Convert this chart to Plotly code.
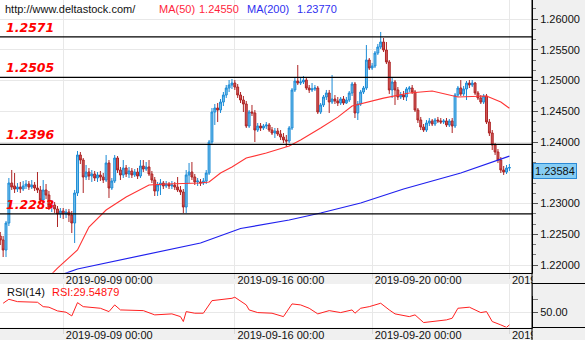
import plotly.graph_objects as go

# ---- EUR/USD 2-hour bars (bar index along the x axis) ----
bars = list(range(179))

open_ = [
    1.22472, 1.22407, 1.22244, 1.22683, 1.23333, 1.23285, 1.23236, 1.23268, 1.23236, 1.23285,
    1.23317, 1.23268, 1.23301, 1.23252, 1.23220, 1.23057, 1.23220, 1.23138, 1.22943, 1.22976,
    1.22911, 1.22829, 1.22878, 1.22829, 1.22862, 1.22813, 1.22683, 1.23171, 1.23789, 1.23707,
    1.23431, 1.23512, 1.23447, 1.23480, 1.23415, 1.23464, 1.23431, 1.23382, 1.23659, 1.23252,
    1.23366, 1.23740, 1.23545, 1.23464, 1.23577, 1.23480, 1.23529, 1.23464, 1.23512, 1.23447,
    1.23610, 1.23561, 1.23594, 1.23480, 1.23382, 1.23203, 1.23301, 1.23333, 1.23285, 1.23317,
    1.23285, 1.23301, 1.23268, 1.23220, 1.23187, 1.22943, 1.23464, 1.23512, 1.23431, 1.23350,
    1.23350, 1.23333, 1.23366, 1.23496, 1.24000, 1.24488, 1.24553, 1.24520, 1.24650, 1.24764,
    1.24878, 1.24927, 1.24959, 1.24894, 1.24764, 1.24683, 1.24618, 1.24260, 1.24488, 1.24472,
    1.24195, 1.24260, 1.24228, 1.24260, 1.24277, 1.24195, 1.24146, 1.24179, 1.24130, 1.24081,
    1.24033, 1.24016, 1.24228, 1.24846, 1.24992, 1.24959, 1.24976, 1.25008, 1.24878, 1.24846,
    1.24862, 1.24878, 1.24488, 1.24602, 1.24732, 1.24797, 1.24650, 1.24699, 1.24667, 1.24634,
    1.24699, 1.24634, 1.24683, 1.24797, 1.24943, 1.24472, 1.24618, 1.24813, 1.24878, 1.25333,
    1.25203, 1.25236, 1.25447, 1.25545, 1.25626, 1.25496, 1.25301, 1.24846, 1.24976, 1.24846,
    1.24732, 1.24764, 1.24732, 1.24862, 1.24878, 1.24813, 1.24520, 1.24358, 1.24244, 1.24195,
    1.24309, 1.24342, 1.24293, 1.24358, 1.24342, 1.24325, 1.24342, 1.24277, 1.24342, 1.24260,
    1.24764, 1.24878, 1.24781, 1.24862, 1.24959, 1.24927, 1.24959, 1.24797, 1.24716, 1.24650,
    1.24748, 1.24325, 1.24146, 1.23951, 1.23837, 1.23707, 1.23545, 1.23512, 1.23577,
]
high = [
    1.22537, 1.22472, 1.22716, 1.23415, 1.23545, 1.23496, 1.23333, 1.23350, 1.23366, 1.23382,
    1.23366, 1.23382, 1.23350, 1.23512, 1.23285, 1.23382, 1.23317, 1.23203, 1.23057, 1.23024,
    1.22959, 1.22927, 1.22927, 1.22911, 1.22911, 1.22878, 1.23220, 1.23854, 1.23837, 1.23740,
    1.23626, 1.23577, 1.23545, 1.23529, 1.23512, 1.23529, 1.23496, 1.23789, 1.23707, 1.23415,
    1.23789, 1.23772, 1.23594, 1.23707, 1.23626, 1.23594, 1.23577, 1.23561, 1.23577, 1.23707,
    1.23707, 1.23675, 1.23707, 1.23529, 1.23431, 1.23350, 1.23398, 1.23366, 1.23366, 1.23350,
    1.23366, 1.23350, 1.23431, 1.23285, 1.23236, 1.23545, 1.23659, 1.23675, 1.23480, 1.23415,
    1.23398, 1.23415, 1.23545, 1.24033, 1.24553, 1.24618, 1.24634, 1.24699, 1.24813, 1.24927,
    1.25008, 1.25024, 1.25008, 1.24943, 1.24813, 1.24748, 1.24667, 1.24520, 1.24602, 1.24520,
    1.24309, 1.24309, 1.24293, 1.24325, 1.24309, 1.24244, 1.24228, 1.24228, 1.24195, 1.24146,
    1.24114, 1.24260, 1.24878, 1.25041, 1.25252, 1.25041, 1.25073, 1.25041, 1.24927, 1.24959,
    1.24927, 1.24911, 1.24634, 1.24764, 1.24846, 1.24846, 1.25089, 1.24764, 1.24732, 1.24732,
    1.24748, 1.24732, 1.24829, 1.24976, 1.24976, 1.24667, 1.24846, 1.24911, 1.25577, 1.25366,
    1.25285, 1.25480, 1.25594, 1.25789, 1.25691, 1.25626, 1.25333, 1.25041, 1.25008, 1.24894,
    1.24813, 1.24829, 1.24894, 1.24911, 1.24927, 1.24846, 1.24553, 1.24407, 1.24293, 1.24358,
    1.24390, 1.24374, 1.24390, 1.24407, 1.24390, 1.24374, 1.24390, 1.24374, 1.24390, 1.24797,
    1.24911, 1.25008, 1.24911, 1.24992, 1.25008, 1.25008, 1.24976, 1.24829, 1.24764, 1.24781,
    1.24781, 1.24374, 1.24195, 1.23984, 1.23886, 1.23756, 1.23610, 1.23626, 1.23642,
]
low = [
    1.22325, 1.22130, 1.22130, 1.22634, 1.23220, 1.23171, 1.23187, 1.23171, 1.23203, 1.23236,
    1.23220, 1.23236, 1.23203, 1.23171, 1.23008, 1.22976, 1.23073, 1.22894, 1.22862, 1.22846,
    1.22618, 1.22764, 1.22748, 1.22764, 1.22699, 1.22520, 1.22358, 1.23122, 1.23642, 1.23171,
    1.23382, 1.23382, 1.23350, 1.23366, 1.23350, 1.23366, 1.23333, 1.23350, 1.23090, 1.23220,
    1.23333, 1.23496, 1.23382, 1.23415, 1.23431, 1.23415, 1.23415, 1.23431, 1.23398, 1.23415,
    1.23512, 1.23529, 1.23447, 1.23333, 1.23122, 1.23122, 1.23138, 1.23236, 1.23252, 1.23236,
    1.23236, 1.23220, 1.23187, 1.23138, 1.22846, 1.22846, 1.23333, 1.23382, 1.23301, 1.23285,
    1.23285, 1.23301, 1.23317, 1.23464, 1.23951, 1.24277, 1.24325, 1.24472, 1.24585, 1.24716,
    1.24813, 1.24862, 1.24846, 1.24716, 1.24634, 1.24488, 1.24228, 1.24228, 1.24423, 1.24000,
    1.24163, 1.24179, 1.24195, 1.24212, 1.24163, 1.24114, 1.24065, 1.24098, 1.24033, 1.23984,
    1.23919, 1.23984, 1.24195, 1.24813, 1.24927, 1.24927, 1.24943, 1.24846, 1.24797, 1.24813,
    1.24829, 1.24455, 1.24455, 1.24569, 1.24683, 1.24472, 1.24618, 1.24618, 1.24585, 1.24602,
    1.24602, 1.24618, 1.24650, 1.24748, 1.24390, 1.24358, 1.24585, 1.24781, 1.24846, 1.25171,
    1.25171, 1.25203, 1.25415, 1.25512, 1.25463, 1.25268, 1.24781, 1.24716, 1.24602, 1.24683,
    1.24699, 1.24683, 1.24667, 1.24813, 1.24781, 1.24488, 1.24309, 1.24195, 1.24163, 1.24163,
    1.24260, 1.24260, 1.24260, 1.24309, 1.24293, 1.24293, 1.24244, 1.24244, 1.24146, 1.24228,
    1.24732, 1.24748, 1.24748, 1.24683, 1.24878, 1.24894, 1.24764, 1.24683, 1.24618, 1.24618,
    1.24293, 1.24098, 1.23870, 1.23789, 1.23659, 1.23496, 1.23464, 1.23480, 1.23529,
]
close = [
    1.22407, 1.22244, 1.22683, 1.23333, 1.23268, 1.23236, 1.23268, 1.23236, 1.23285, 1.23317,
    1.23268, 1.23301, 1.23252, 1.23220, 1.23057, 1.23220, 1.23138, 1.22943, 1.22976, 1.22911,
    1.22829, 1.22878, 1.22829, 1.22862, 1.22813, 1.22683, 1.23171, 1.23789, 1.23707, 1.23431,
    1.23512, 1.23447, 1.23480, 1.23415, 1.23464, 1.23431, 1.23382, 1.23659, 1.23252, 1.23366,
    1.23740, 1.23545, 1.23464, 1.23577, 1.23480, 1.23529, 1.23464, 1.23512, 1.23447, 1.23610,
    1.23561, 1.23594, 1.23480, 1.23382, 1.23203, 1.23301, 1.23333, 1.23285, 1.23317, 1.23285,
    1.23301, 1.23268, 1.23220, 1.23187, 1.22943, 1.23464, 1.23512, 1.23431, 1.23350, 1.23366,
    1.23333, 1.23366, 1.23496, 1.24000, 1.24488, 1.24553, 1.24520, 1.24650, 1.24764, 1.24878,
    1.24927, 1.24959, 1.24894, 1.24764, 1.24683, 1.24618, 1.24260, 1.24488, 1.24472, 1.24195,
    1.24260, 1.24228, 1.24260, 1.24277, 1.24195, 1.24146, 1.24179, 1.24130, 1.24081, 1.24033,
    1.24016, 1.24228, 1.24846, 1.24992, 1.24959, 1.24976, 1.25008, 1.24878, 1.24846, 1.24862,
    1.24878, 1.24488, 1.24602, 1.24732, 1.24797, 1.24650, 1.24699, 1.24667, 1.24634, 1.24699,
    1.24634, 1.24683, 1.24797, 1.24943, 1.24472, 1.24618, 1.24813, 1.24878, 1.25333, 1.25203,
    1.25236, 1.25447, 1.25545, 1.25626, 1.25496, 1.25301, 1.24846, 1.24976, 1.24846, 1.24732,
    1.24764, 1.24732, 1.24862, 1.24878, 1.24813, 1.24520, 1.24358, 1.24244, 1.24195, 1.24309,
    1.24342, 1.24293, 1.24358, 1.24342, 1.24325, 1.24342, 1.24277, 1.24342, 1.24260, 1.24764,
    1.24878, 1.24781, 1.24862, 1.24959, 1.24927, 1.24959, 1.24797, 1.24716, 1.24650, 1.24748,
    1.24325, 1.24146, 1.23951, 1.23837, 1.23707, 1.23545, 1.23512, 1.23577, 1.23584,
]

# ---- moving averages ----
ma50_bar = [18, 20, 27, 31, 37, 44, 52, 58, 70, 73, 77, 81, 86, 93, 101, 105, 112, 118,
            123, 134, 143, 151, 160, 170, 175, 178]
ma50_val = [1.21854, 1.21951, 1.22244, 1.22618, 1.22894, 1.23106, 1.23301, 1.23317, 1.23333,
            1.23350, 1.23496, 1.23594, 1.23740, 1.23821, 1.23935, 1.24033, 1.24228, 1.24405,
            1.24585, 1.24714, 1.24797, 1.24829, 1.24732, 1.24748, 1.24650, 1.24550]
ma200_bar = [21, 27, 70, 84, 101, 112, 126, 141, 161, 171, 178]
ma200_val = [1.21837, 1.21935, 1.22358, 1.22594, 1.22732, 1.22846, 1.23008, 1.23236,
             1.23496, 1.23659, 1.23770]

# ---- RSI(14) ----
rsi_bar = [1, 3, 6, 13, 15, 17, 20, 23, 25, 27, 29, 35, 38, 40, 42, 46, 50, 54, 60, 63,
           64, 65, 68, 71, 74, 81, 82, 86, 87, 90, 95, 99, 102, 105, 108, 111, 115, 119, 123, 124,
           126, 129, 133, 136, 138, 143, 145, 148, 153, 156, 158, 160, 164, 168, 170, 172, 175, 177, 178]
rsi_val = [64.5, 70.9, 67.1, 66.1, 59.0, 58.1, 52.1, 50.0, 44.0, 65.5, 59.0, 56.4, 51.0, 61.8,
           53.7, 52.6, 52.6, 45.7, 47.3, 42.9, 34.9, 51.0, 48.4, 48.4, 68.7, 72.5, 74.2, 61.8,
           53.7, 49.4, 48.4, 42.9, 63.4, 61.8, 56.4, 47.3, 52.6, 49.4, 53.7, 48.4, 56.4, 59.0,
           64.5, 53.7, 47.3, 42.9, 45.7, 33.3, 36.5, 37.6, 40.3, 56.4, 58.1, 49.4, 51.0, 34.9,
           29.5, 25.5, 29.54879]

# ---- annotations / axes text ----
levels = [1.2571, 1.2505, 1.2396, 1.2283]
level_labels = ["1.2571", "1.2505", "1.2396", "1.2283"]
date_ticks = [22, 82, 130, 178]
date_labels = ["2019-09-09 00:00", "2019-09-16 00:00", "2019-09-20 00:00", "2019-09-26 00:00"]
price_ticks = [1.220, 1.225, 1.230, 1.235, 1.240, 1.245, 1.250, 1.255, 1.260]
last_price = 1.23584
ma50_last = 1.24550
ma200_last = 1.23770
rsi_last = 29.54879

W, H = 585, 340
PLOT_R = 532.0
XR = PLOT_R / W
YM0 = 1 - 272.7 / H          # bottom of price panel
YR1 = 1 - 284.0 / H          # top of RSI panel
YR0 = 1 - 327.5 / H          # bottom of RSI panel
FONT = "Liberation Sans, Arial, sans-serif"
GRID = "#e8e8e8"
PANEL = "#f0f0f0"
RED = "#ff1f3d"
BLUE = "#3030f0"


def px(x):
    return x / W


def py(y):
    return 1 - y / H


fig = go.Figure()

fig.add_trace(go.Candlestick(
    x=bars, open=open_, high=high, low=low, close=close,
    increasing=dict(line=dict(color="#1b8bd6", width=1), fillcolor="#78c2ec"),
    decreasing=dict(line=dict(color="#ae2424", width=1), fillcolor="#d25a5a"),
    whiskerwidth=0, xaxis="x", yaxis="y", showlegend=False, hoverinfo="skip",
))
fig.add_trace(go.Scatter(x=ma50_bar, y=ma50_val, mode="lines", line=dict(color="#ff3434", width=1.1),
                         xaxis="x", yaxis="y", showlegend=False, hoverinfo="skip"))
fig.add_trace(go.Scatter(x=ma200_bar, y=ma200_val, mode="lines", line=dict(color="#2020ee", width=1.2),
                         xaxis="x", yaxis="y", showlegend=False, hoverinfo="skip"))
fig.add_trace(go.Scatter(x=rsi_bar, y=rsi_val, mode="lines", line=dict(color="#ff2020", width=1),
                         xaxis="x2", yaxis="y2", showlegend=False, hoverinfo="skip"))

shapes = []
for lv in levels:
    shapes.append(dict(type="line", xref="x", yref="y", x0=-0.1, x1=185.9, y0=lv, y1=lv,
                       line=dict(color="black", width=1.3)))
# right-hand axis column: hide date-label overflow, draw borders
shapes += [
    dict(type="rect", xref="paper", yref="paper", x0=px(PLOT_R + 0.5), x1=1, y0=py(296), y1=py(273.5),
         fillcolor=PANEL, line=dict(width=0), layer="above"),
    dict(type="rect", xref="paper", yref="paper", x0=px(PLOT_R + 0.5), x1=1, y0=0, y1=py(328.2),
         fillcolor=PANEL, line=dict(width=0), layer="above"),
    dict(type="line", xref="paper", yref="paper", x0=XR, x1=XR, y0=0, y1=1,
         line=dict(color="black", width=1), layer="above"),
    dict(type="line", xref="paper", yref="paper", x0=XR, x1=1, y0=py(283.5), y1=py(283.5),
         line=dict(color="black", width=1), layer="above"),
    dict(type="line", xref="paper", yref="paper", x0=XR, x1=1, y0=YR0, y1=YR0,
         line=dict(color="black", width=1), layer="above"),
]

annotations = []
for lv, txt in zip(levels, level_labels):
    annotations.append(dict(xref="paper", yref="y", x=px(4), y=lv, yshift=9.5, text=txt,
                            showarrow=False, xanchor="left", yanchor="middle",
                            font=dict(family="DejaVu Sans", size=12.5, color="#ff0000",
                                      weight="bold", style="italic")))
header = [
    ("http://www.deltastock.com/", 3, "#111111"),
    ("MA(50)", 157, RED),
    (f"{ma50_last:.5f}", 197, RED),
    ("MA(200)", 245, BLUE),
    (f"{ma200_last:.5f}", 295, BLUE),
]
for txt, x, col in header:
    annotations.append(dict(xref="paper", yref="paper", x=px(x), y=py(9), text=txt, showarrow=False,
                            xanchor="left", yanchor="middle", font=dict(family=FONT, size=11, color=col)))
annotations.append(dict(xref="paper", yref="paper", x=px(5), y=py(292), text="RSI(14)", showarrow=False,
                        xanchor="left", yanchor="middle", font=dict(family=FONT, size=11, color="#111111")))
annotations.append(dict(xref="paper", yref="paper", x=px(50), y=py(292), text=f"RSI:{rsi_last:.5f}",
                        showarrow=False, xanchor="left", yanchor="middle",
                        font=dict(family=FONT, size=11, color="#ff1010")))
annotations.append(dict(xref="paper", yref="y", x=px(PLOT_R + 0.5), y=last_price, yshift=-3,
                        text=f"{last_price:.5f}", showarrow=False, xanchor="left", yanchor="middle",
                        bgcolor="#86cdf4", bordercolor="#2a8ad6", borderwidth=1, borderpad=1,
                        font=dict(family=FONT, size=11, color="#111111")))

xcommon = dict(
    domain=[0, XR], range=[-0.1, 185.9], tickmode="array", tickvals=date_ticks, ticktext=date_labels,
    showgrid=True, gridcolor=GRID, gridwidth=1, ticks="outside", ticklen=5, tickcolor="#d8d8d8",
    showline=True, linecolor="black", linewidth=1, zeroline=False, automargin=False,
    tickfont=dict(family=FONT, size=11, color="#111111"),
    ticklabelshift=46, ticklabelstandoff=-8, ticklabeloverflow="allow", fixedrange=True,
)

# the 1.235 level sits under the last-price box, so its label is left blank
price_text = ["" if abs(v - 1.235) < 1e-9 else f"{v:.5f}" for v in price_ticks]

fig.update_layout(
    width=W, height=H, margin=dict(l=0, r=0, t=0, b=0, autoexpand=False),
    paper_bgcolor=PANEL, plot_bgcolor="white", showlegend=False, boxgap=0.05,
    xaxis=dict(**xcommon, anchor="y", rangeslider=dict(visible=False)),
    xaxis2=dict(**xcommon, anchor="y2", matches="x"),
    yaxis=dict(domain=[YM0, 1], range=[1.21875, 1.26309], side="right", anchor="x", automargin=False,
               tickmode="array", tickvals=price_ticks, ticktext=price_text,
               ticks="outside", ticklen=5, tickcolor="#555555",
               showline=True, linecolor="black", linewidth=1, showgrid=True, gridcolor=GRID, zeroline=False,
               minor=dict(tick0=1.22, dtick=0.005 / 3, ticklen=3, tickcolor="#777777", ticks="outside",
                          showgrid=False),
               tickfont=dict(family=FONT, size=11, color="#111111"), fixedrange=True),
    yaxis2=dict(domain=[YR0, YR1], range=[25.3, 95.6], side="right", anchor="x2", automargin=False,
                tickmode="array", tickvals=[50], ticktext=["50.00"], ticks="outside", ticklen=5,
                tickcolor="#555555", showline=True, linecolor="black", linewidth=1,
                showgrid=True, gridcolor=GRID, zeroline=False,
                minor=dict(tickmode="array", tickvals=[70], ticklen=5, tickcolor="#777777", ticks="outside",
                           showgrid=False),
                tickfont=dict(family=FONT, size=11, color="#111111"), fixedrange=True),
    shapes=shapes, annotations=annotations,
)

fig.write_html("out.html")
